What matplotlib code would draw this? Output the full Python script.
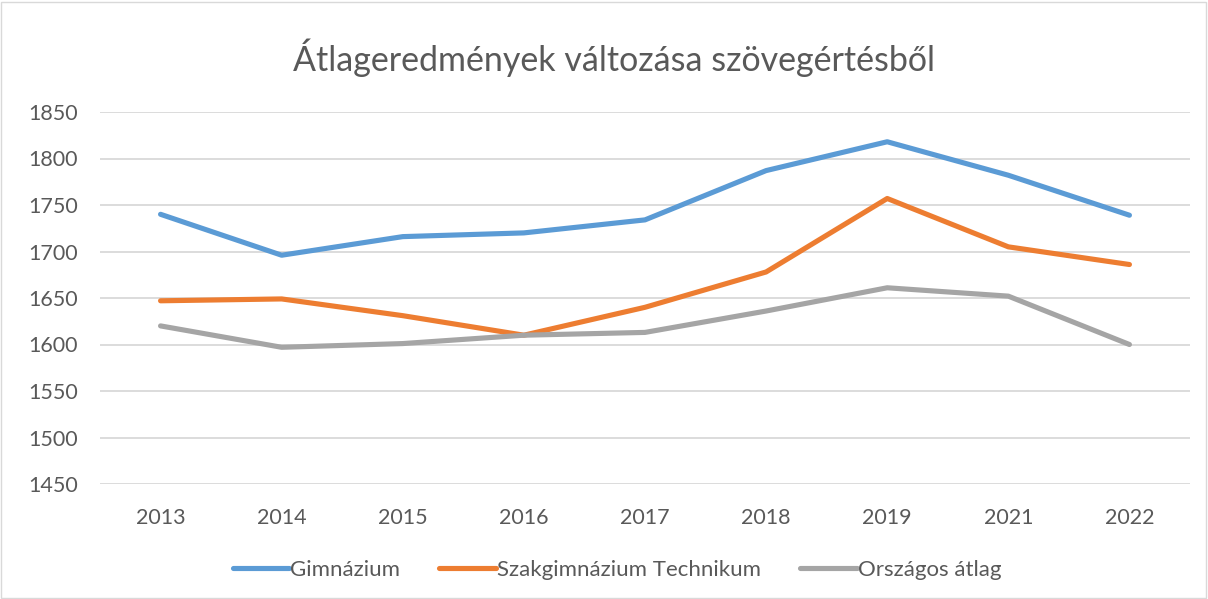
import matplotlib
matplotlib.use("Agg")
import matplotlib.pyplot as plt
from matplotlib.patches import Rectangle

years = ["2013", "2014", "2015", "2016", "2017", "2018", "2019", "2021", "2022"]
gimnazium = [1740, 1696, 1716, 1720, 1734, 1787, 1818, 1782, 1739]
szakgimnazium = [1647, 1649, 1631, 1610, 1640, 1678, 1757, 1705, 1686]
orszagos = [1620, 1597, 1601, 1610, 1613, 1636, 1661, 1652, 1600]
series_names = ["Gimnázium", "Szakgimnázium Technikum", "Országos átlag"]
yticks = [1450, 1500, 1550, 1600, 1650, 1700, 1750, 1800, 1850]

plt.rcParams['font.family'] = ['Lato', 'DejaVu Sans']
W, H = 1208, 599
fig = plt.figure(figsize=(W / 100, H / 100), dpi=100)
fig.patches.append(Rectangle((1 / W, 1 / H), 1 - 3 / W, 1 - 3 / H, transform=fig.transFigure,
                             fill=False, edgecolor='#D9D9D9', linewidth=1))
ax = fig.add_axes([100 / W, (H - 484) / H, 1090 / W, 372 / H])

colors = ['#5B9BD5', '#ED7D31', '#A5A5A5']
x = range(len(years))
for vals, name, c in zip([gimnazium, szakgimnazium, orszagos], series_names, colors):
    ax.plot(x, vals, color=c, lw=3.7, solid_capstyle='round', solid_joinstyle='round', label=name, zorder=3)

ax.set_xlim(-0.5, len(years) - 0.5)
ax.set_ylim(1450, 1850)
ax.set_yticks(yticks)
ax.set_xticks(list(x))
ax.set_xticklabels(years)
ax.grid(axis='y', color='#D9D9D9', lw=1.3)
ax.set_axisbelow(True)
for s in ax.spines.values():
    s.set_visible(False)
ax.tick_params(length=0, labelsize=15.5, colors='#595959')
ax.tick_params(axis='x', pad=17)
ax.tick_params(axis='y', pad=16)

fig.text(614 / W, 1 - 58 / H, "Átlageredmények változása szövegértésből", ha='center', va='center',
         fontsize=24.5, color='#595959')

leg = fig.legend(loc='center', bbox_to_anchor=(617 / W, 1 - 570 / H), ncol=3, frameon=False,
                 fontsize=16, handlelength=2.55, handletextpad=0.05, columnspacing=1.75)
for t in leg.get_texts():
    t.set_color('#595959')

fig.savefig("out.png", dpi=100)
